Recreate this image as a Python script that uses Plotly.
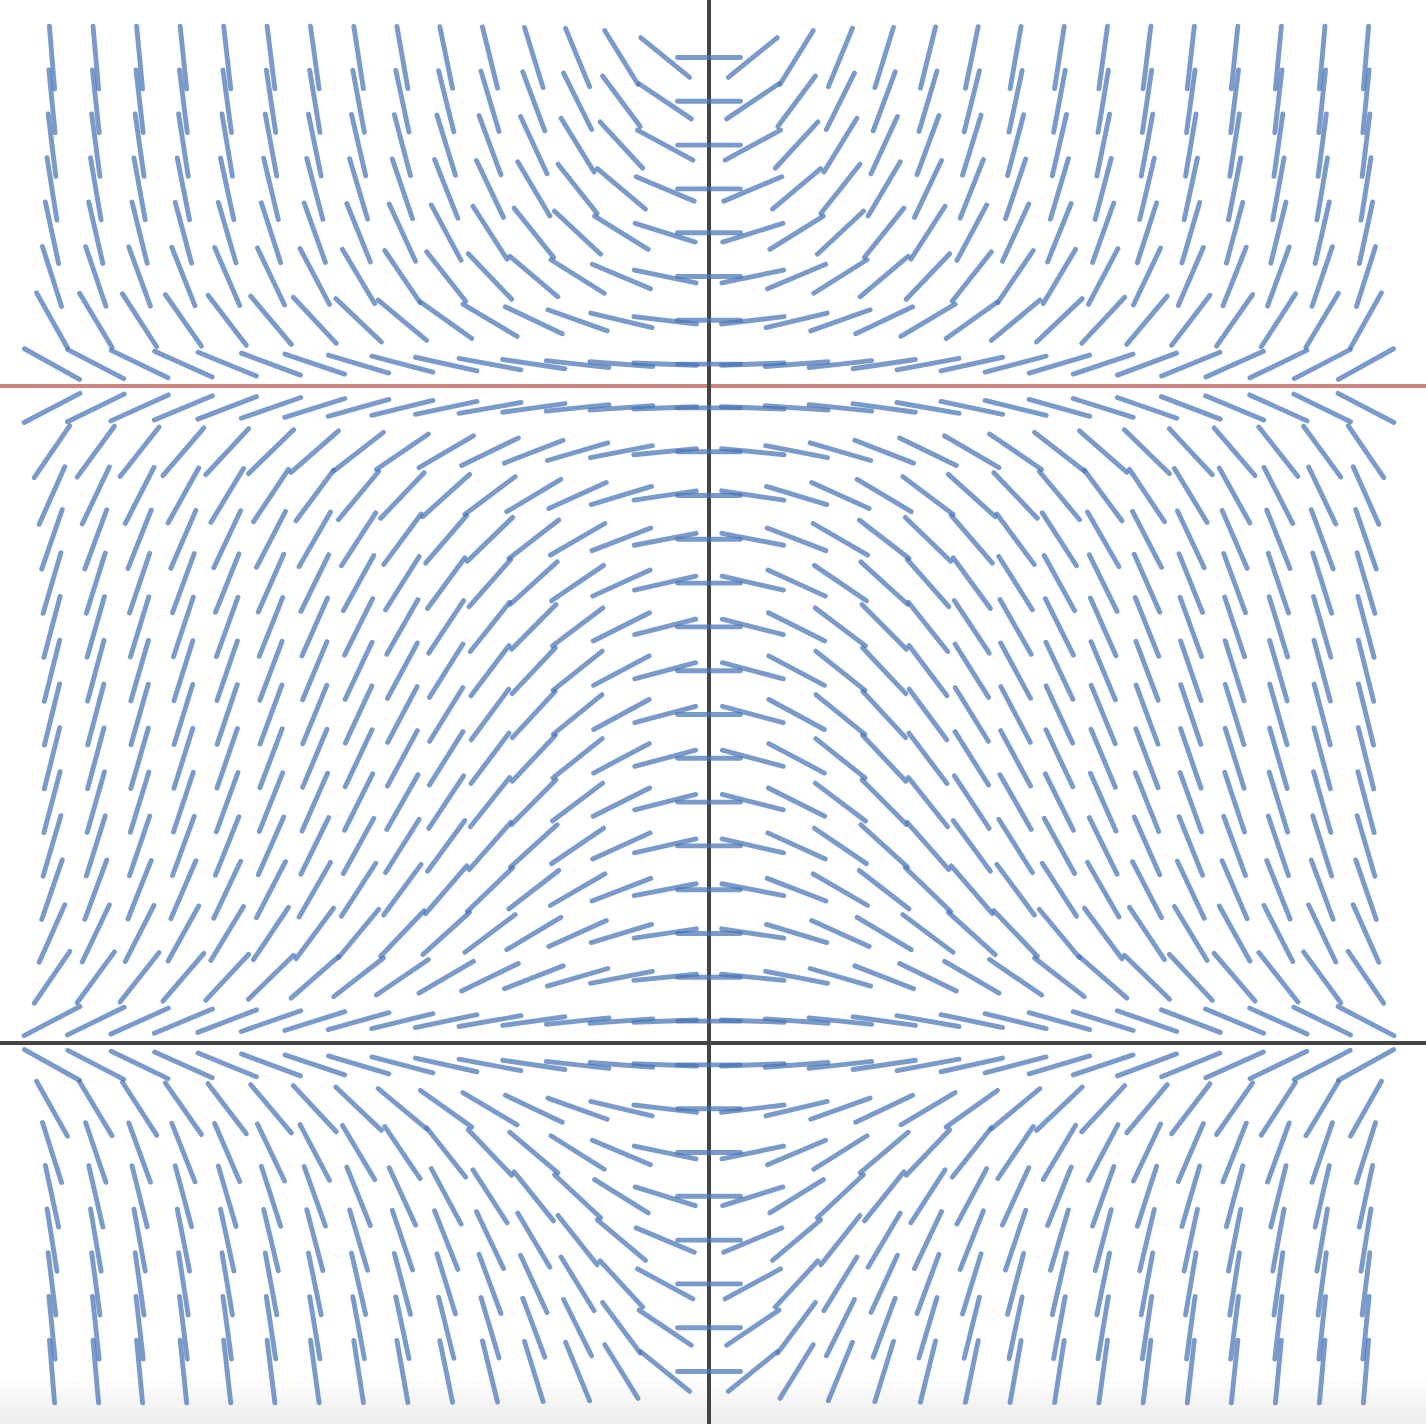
import numpy as np
import plotly.graph_objects as go

# Slope field for dy/dx = k * x * y * (y - c)
x_grid = [round(-3.0 + 0.2 * i, 2) for i in range(31)]
y_grid = [round(-1.5 + 0.2 * j, 2) for j in range(31)]
k_coef = 0.6
c_equilibrium = 3.0

W, H = 1426, 1424
px_per_unit = 219.0
x0_px, y0_px = 709.0, 1043.0
x_range = [-x0_px / px_per_unit, (W - x0_px) / px_per_unit]
y_range = [-(H - y0_px) / px_per_unit, y0_px / px_per_unit]
half_len = 31.5 / px_per_unit

sx, sy = [], []
for xv in x_grid:
    for yv in y_grid:
        s = k_coef * xv * yv * (yv - c_equilibrium)
        n = np.hypot(1.0, s)
        dx, dy = half_len / n, half_len * s / n
        sx += [xv - dx, xv + dx, None]
        sy += [yv - dy, yv + dy, None]

fig = go.Figure()
# axes and equilibrium line
fig.add_trace(go.Scatter(x=[x_range[0], x_range[1]], y=[c_equilibrium, c_equilibrium], mode="lines",
                         line=dict(color="#cd857f", width=4), hoverinfo="skip", showlegend=False))
fig.add_trace(go.Scatter(x=[x_range[0], x_range[1]], y=[0, 0], mode="lines",
                         line=dict(color="#444444", width=4), hoverinfo="skip", showlegend=False))
fig.add_trace(go.Scatter(x=[0, 0], y=[y_range[0], y_range[1]], mode="lines",
                         line=dict(color="#444444", width=4), hoverinfo="skip", showlegend=False))
fig.add_trace(go.Scatter(x=sx, y=sy, mode="lines", connectgaps=False,
                         line=dict(color="rgba(70,117,182,0.72)", width=4.9),
                         hoverinfo="skip", showlegend=False))

# faint gray gradient at the bottom
shapes = []
nb = 12
for i in range(nb):
    y_top = 45 * (1 - i / nb)
    g = int(255 - 18 * (i + 1) / nb)
    shapes.append(dict(type="rect", xref="paper", yref="paper", layer="below",
                       x0=0, x1=1, y0=0, y1=y_top / H, line=dict(width=0),
                       fillcolor=f"rgba({g},{g},{g},1)"))

fig.update_layout(
    width=W, height=H, margin=dict(l=0, r=0, t=0, b=0),
    paper_bgcolor="white", plot_bgcolor="rgba(0,0,0,0)",
    xaxis=dict(range=x_range, visible=False, fixedrange=True),
    yaxis=dict(range=y_range, visible=False, fixedrange=True),
    shapes=shapes,
)
fig.write_html("out.html", config={"displayModeBar": False, "staticPlot": True},
               post_script="document.body.style.margin='0';document.body.style.padding='0';document.body.style.overflow='hidden';"
                           "document.querySelectorAll('.scatterlayer path.js-line').forEach(function(p){p.style.strokeLinecap='round';});")
